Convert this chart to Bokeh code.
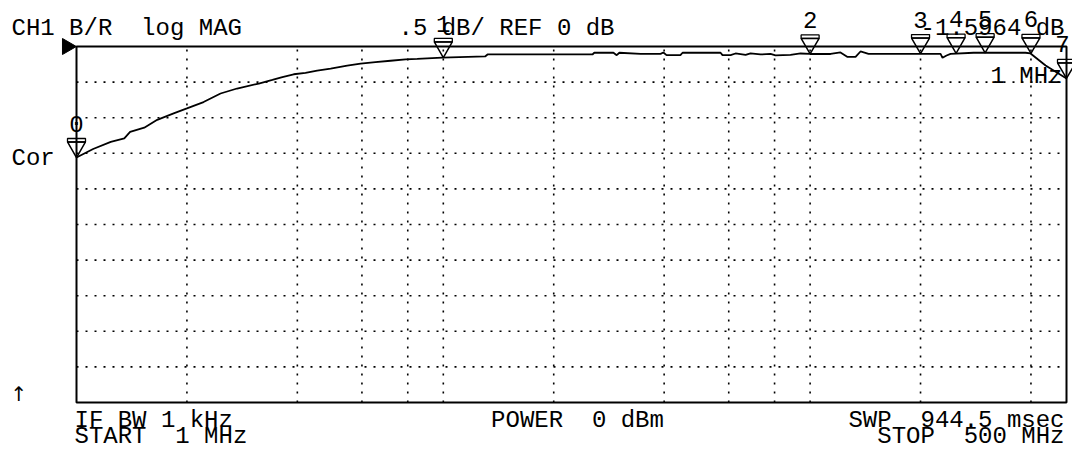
import math
from bokeh.plotting import figure
from bokeh.models import Label, LabelSet, ColumnDataSource
from bokeh.embed import file_html
from bokeh.resources import INLINE
from bokeh.core.properties import value

# ---------------- data ----------------
start_mhz = 1.0
stop_mhz = 500.0
ref_db = 0.0
db_per_div = 0.5
n_div = 10

trace_mhz = [1.0, 1.11, 1.24, 1.35, 1.40, 1.53, 1.66, 1.84, 2.0, 2.22,
             2.47, 2.74, 3.14, 3.42, 3.64, 3.91, 4.21, 4.53, 4.93, 5.47,
             5.95, 6.53, 7.18, 7.89, 8.49, 9.93, 13.0, 13.2, 25.5, 25.8,
             29.1, 29.7, 30.2, 34.5, 39.1, 39.8, 40.6, 44.3, 44.9, 57.0,
             57.7, 60.7, 62.6, 66.7, 68.8, 73.2, 78.0, 80.5, 88.4, 94.2,
             100.0, 113.7, 121.0, 126.5, 133.0, 137.2, 144.3, 226.8, 229.6, 235.5,
             241.5, 279.0, 386.5, 399.0, 438.5, 500.0]
trace_db = [-1.56, -1.44, -1.34, -1.29, -1.20, -1.14, -1.03, -0.94, -0.87, -0.78,
            -0.66, -0.59, -0.52, -0.47, -0.43, -0.39, -0.37, -0.34, -0.31, -0.27,
            -0.24, -0.22, -0.20, -0.18, -0.175, -0.155, -0.14, -0.112, -0.112, -0.088,
            -0.088, -0.122, -0.088, -0.103, -0.103, -0.084, -0.122, -0.122, -0.088, -0.088,
            -0.122, -0.122, -0.098, -0.119, -0.098, -0.112, -0.105, -0.126, -0.119, -0.098,
            -0.105, -0.105, -0.084, -0.147, -0.147, -0.070, -0.103, -0.103, -0.159, -0.126,
            -0.103, -0.088, -0.088, -0.098, -0.267, -0.449]

marker_names = ["0", "1", "2", "3", "4", "5", "6", "7"]
marker_mhz = [1.0, 10.0, 100.0, 200.0, 250.0, 300.0, 400.0, 500.0]
marker_db = [-1.56, -0.155, -0.105, -0.10, -0.095, -0.088, -0.098, -0.449]

grid_mhz = [2, 4, 6, 8, 10, 20, 40, 60, 80, 100, 200, 400]

NB = "\u00a0"
header_left = "CH1 B/R " + NB + "log MAG"
header_mid = ".5 dB/ REF 0 dB"
readout_value = "-1.5964 dB"
readout_stim = "1 MHz"
side_cor = "Cor"
side_arrow = "\u2191"
foot_ifbw = "IF BW 1 kHz"
foot_start = "START " + NB + "1 MHz"
foot_power = "POWER " + NB + "0 dBm"
foot_swp = "SWP " + NB + "944.5 msec"
foot_stop = "STOP " + NB + "500 MHz"

# ---------------- layout ----------------
FIG_W, FIG_H = 1072, 450
BOX_L, BOX_R, BOX_T, BOX_B = 76, 1066, 46, 402   # pixels of the graticule box

bottom_db = ref_db - n_div * db_per_div
ppd = (BOX_R - BOX_L) / math.log10(stop_mhz / start_mhz)
ppdb = (BOX_B - BOX_T) / (n_div * db_per_div)
x0 = 10 ** (math.log10(start_mhz) - BOX_L / ppd)
x1 = 10 ** (math.log10(stop_mhz) + (FIG_W - BOX_R) / ppd)
y1 = ref_db + BOX_T / ppdb
y0 = bottom_db - (FIG_H - BOX_B) / ppdb

p = figure(width=FIG_W, height=FIG_H, x_axis_type="log",
           x_range=(x0, x1), y_range=(y0, y1),
           x_axis_location=None, y_axis_location=None,
           toolbar_location=None, output_backend="svg",
           min_border=0, outline_line_color=None,
           background_fill_color="white", border_fill_color="white")
p.grid.visible = False

FONT = "Liberation Mono"
FS = "24px"

# dotted graticule
grid_db = [ref_db - db_per_div * i for i in range(1, n_div)]
p.segment(x0=grid_mhz, y0=[bottom_db] * len(grid_mhz), x1=grid_mhz, y1=[ref_db] * len(grid_mhz),
          line_color="black", line_width=1.6, line_dash="2 7")
p.segment(x0=[start_mhz] * len(grid_db), y0=grid_db, x1=[stop_mhz] * len(grid_db), y1=grid_db,
          line_color="black", line_width=1.6, line_dash="2 7")

# box
p.quad(left=[start_mhz], right=[stop_mhz], top=[ref_db], bottom=[bottom_db],
       fill_alpha=0, line_color="black", line_width=2)

# trace
p.line(trace_mhz, trace_db, line_color="black", line_width=1.8)

# markers (inverted triangles with a small top bar, tip on the trace)
tri_size = 18
r = tri_size / 2
h = r * math.sqrt(3)
apex = h * 2 / 3
p.scatter(marker_mhz, [d + apex / ppdb for d in marker_db],
          marker="inverted_triangle", size=tri_size, fill_alpha=0,
          line_color="black", line_width=1.5)
bar_h = 3.5
p.rect(x=marker_mhz, y=[d + (h + bar_h / 2) / ppdb for d in marker_db],
       width=tri_size, height=bar_h, width_units="screen", height_units="screen",
       fill_alpha=0, line_color="black", line_width=1.3)
xoff = [0] * len(marker_names)
xoff[-1] = -4
msrc = ColumnDataSource(dict(x=marker_mhz, y=marker_db, t=marker_names, xo=xoff))
p.add_layout(LabelSet(x="x", y="y", text="t", source=msrc, y_offset=26, x_offset="xo",
                      text_align="center", text_baseline="alphabetic",
                      text_font=value(FONT), text_font_size=value(FS),
                      text_color="black"))

# reference position pointer
p.scatter([10 ** (math.log10(start_mhz) - 9.4 / ppd)], [ref_db], marker="triangle",
          angle=-math.pi / 2, size=16, fill_color="black", line_color="black")

def lab(txt, sx, base_y, align="left", size=FS, font=FONT):
    p.add_layout(Label(x=sx, y=FIG_H - base_y, x_units="screen", y_units="screen",
                       text=txt, text_font=font, text_font_size=size, text_color="black",
                       text_align=align, text_baseline="alphabetic"))

lab(header_left, 11, 28)
lab(header_mid, 506, 28, align="center")
lab(readout_value, 1064, 28, align="right")
lab(readout_stim, 1062, 76, align="right")
lab(side_cor, 11, 158)
lab(side_arrow, 10, 393, size="20px", font="DejaVu Sans")
lab(foot_ifbw, 74, 420)
lab(foot_start, 74, 436)
lab(foot_power, 577, 420, align="center")
lab(foot_swp, 1064, 420, align="right")
lab(foot_stop, 1064, 436, align="right")

open("out.html", "w").write(file_html(p, INLINE))
